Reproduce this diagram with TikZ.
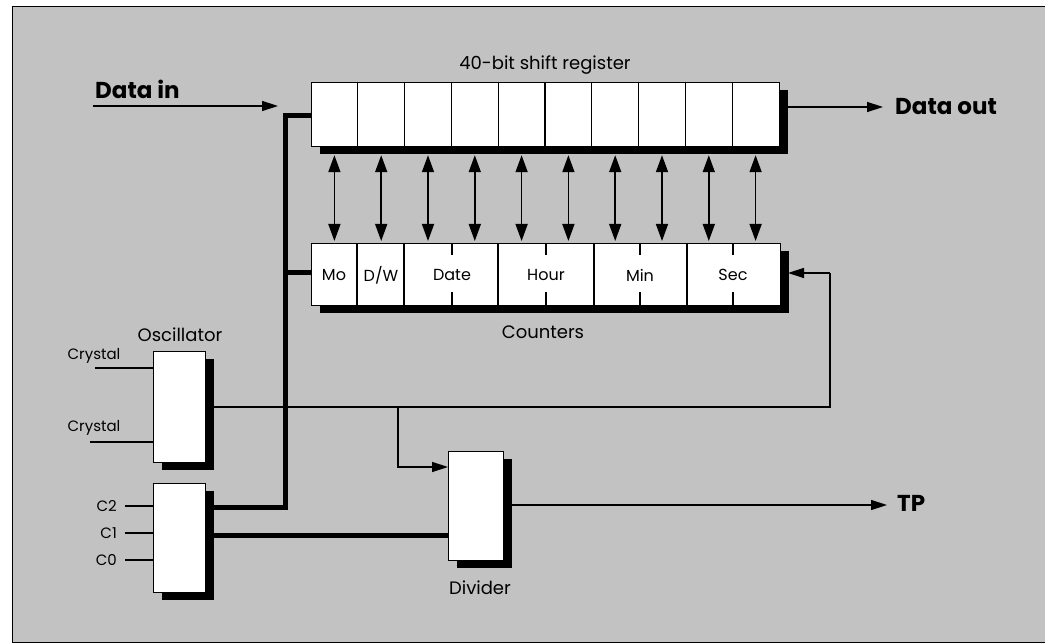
\documentclass[tikz,border=0pt]{standalone}
\usepackage{fontspec}
\setmainfont{Poppins}
\usetikzlibrary{arrows.meta,shadows,calc}
\begin{document}
\begin{tikzpicture}[x=1pt,y=-1pt,
  blk/.style={draw=black, fill=white, line width=1.2pt, inner sep=0pt, anchor=north west,
    general shadow={fill=black, shadow xshift=8pt, shadow yshift=-7pt}},
  wire/.style={line width=1.4pt},
  arr/.style={wire, -{Triangle[length=16pt,width=10pt]}},
  darr/.style={line width=1.6pt, {Triangle[length=17pt,width=12pt]}-{Triangle[length=17pt,width=12pt]}},
  bus/.style={line width=5pt},
  lbl/.style={inner sep=0pt, font=\fontsize{18}{20}\selectfont},
  cel/.style={inner sep=0pt, font=\fontsize{16}{18}\selectfont},
  sml/.style={inner sep=0pt, font=\fontsize{15}{17}\selectfont},
  big/.style={inner sep=0pt, anchor=west, font=\fontsize{23}{26}\selectfont\bfseries}]
\useasboundingbox (0,0) rectangle (1045,644);
\draw[fill=black!24, line width=1pt] (12,7) rectangle (1046,642);

% blocks
\node[blk, minimum width=468pt, minimum height=64pt] (reg) at (311,82) {};
\node[blk, minimum width=469pt, minimum height=62pt] (cnt) at (311,243) {};
\node[blk, minimum width=52pt, minimum height=111pt] (osc) at (153,351) {};
\node[blk, minimum width=52pt, minimum height=109pt] (ctl) at (153,483) {};
\node[blk, minimum width=55pt, minimum height=109pt] (div) at (448,451) {};

% register cells
\foreach \i in {1,...,9}
  \draw[line width=1.2pt] ($(reg.north west)+(\i*46.8,0)$) -- ($(reg.south west)+(\i*46.8,0)$);

% counter cells
\foreach \d in {46,93,187,283,376}
  \draw[line width=1.2pt] ($(cnt.north west)+(\d,0)$) -- ($(cnt.south west)+(\d,0)$);
\foreach \d in {141,235,329,422}{
  \draw[line width=1.2pt] ($(cnt.north west)+(\d,0)$) -- ++(0,12);
  \draw[line width=1.2pt] ($(cnt.south west)+(\d,0)$) -- ++(0,-14);}

% counter labels
\node[cel] (mo) at (334,275) {Mo};
\node[cel] (dw) at (381,275) {D/W};
\node[cel] (date) at (452,275) {Date};
\node[cel] (hour) at (546,275) {Hour};
\node[cel] (min) at (640,275) {Min};
\node[cel] (sec) at (733,275) {Sec};

% register <-> counters
\foreach \i in {0,...,9}{
  \coordinate (ra\i) at ($(reg.south west)+(23.4+\i*46.8,8)$);
  \coordinate (ca\i) at ($(cnt.north west)+(23.4+\i*46.8,-2)$);
  \draw[darr] (ra\i) -- (ca\i);}

% titles
\node[lbl] (tsr) at (545,65) {40-bit shift register};
\node[lbl] (tcn) at (543,332) {Counters};
\node[lbl] (tos) at (180,335) {Oscillator};
\node[lbl] (tdv) at (480,588) {Divider};

% data in/out
\node[big] (din) at (95,89) {Data in};
\coordinate (dinA) at (93,106);
\draw[arr] (dinA) -- (dinA -| 278,0);
\coordinate (doutA) at (787,107);
\coordinate (doutB) at (883,107);
\draw[arr] (doutA) -- (doutB);
\node[big] (dout) at (895,107) {Data out};

% bus
\coordinate (bt) at (285,116);
\coordinate (bm) at (285,273);
\coordinate (bb) at (285,507);
\draw[bus] (ctl.east |- bb) -- (bb) -- (bt) -- (reg.west |- bt);
\draw[bus] (bm) -- (cnt.west |- bm);
\coordinate (cd) at (0,535);
\draw[bus] (ctl.east |- cd) -- (div.west |- cd);

% oscillator feedback
\coordinate (o1) at (213,407);
\coordinate (fr) at (830,407);
\coordinate (fu) at (830,273);
\draw[wire] (o1) -- (fr) -- (fu);
\draw[arr] (fu) -- (fu -| 788,0);
\coordinate (jn) at (398,407);
\coordinate (jd) at (398,467);
\draw[arr] (jn) -- (jd) -- (div.west |- jd);

% crystal
\node[sml, anchor=south] (cr1) at (94,364) {Crystal};
\coordinate (x1) at (95,368);
\draw[wire] (x1) -- (x1 -| osc.west);
\node[sml, anchor=south] (cr2) at (94,436) {Crystal};
\coordinate (x2) at (90,442);
\draw[wire] (x2) -- (x2 -| osc.west);

% control inputs
\node[sml, anchor=east] (c2) at (117,506) {C2};
\node[sml, anchor=east] (c1) at (117,533) {C1};
\node[sml, anchor=east] (c0) at (117,560) {C0};
\draw[wire] (c2.east) ++(8,0) -- (c2.east -| ctl.west);
\draw[wire] (c1.east) ++(8,0) -- (c1.east -| ctl.west);
\draw[wire] (c0.east) ++(8,0) -- (c0.east -| ctl.west);

% divider output
\coordinate (dvo) at (511,505);
\coordinate (tpa) at (887,505);
\draw[arr] (dvo) -- (tpa);
\node[big] (tp) at (897,503) {TP};
\end{tikzpicture}
\end{document}
